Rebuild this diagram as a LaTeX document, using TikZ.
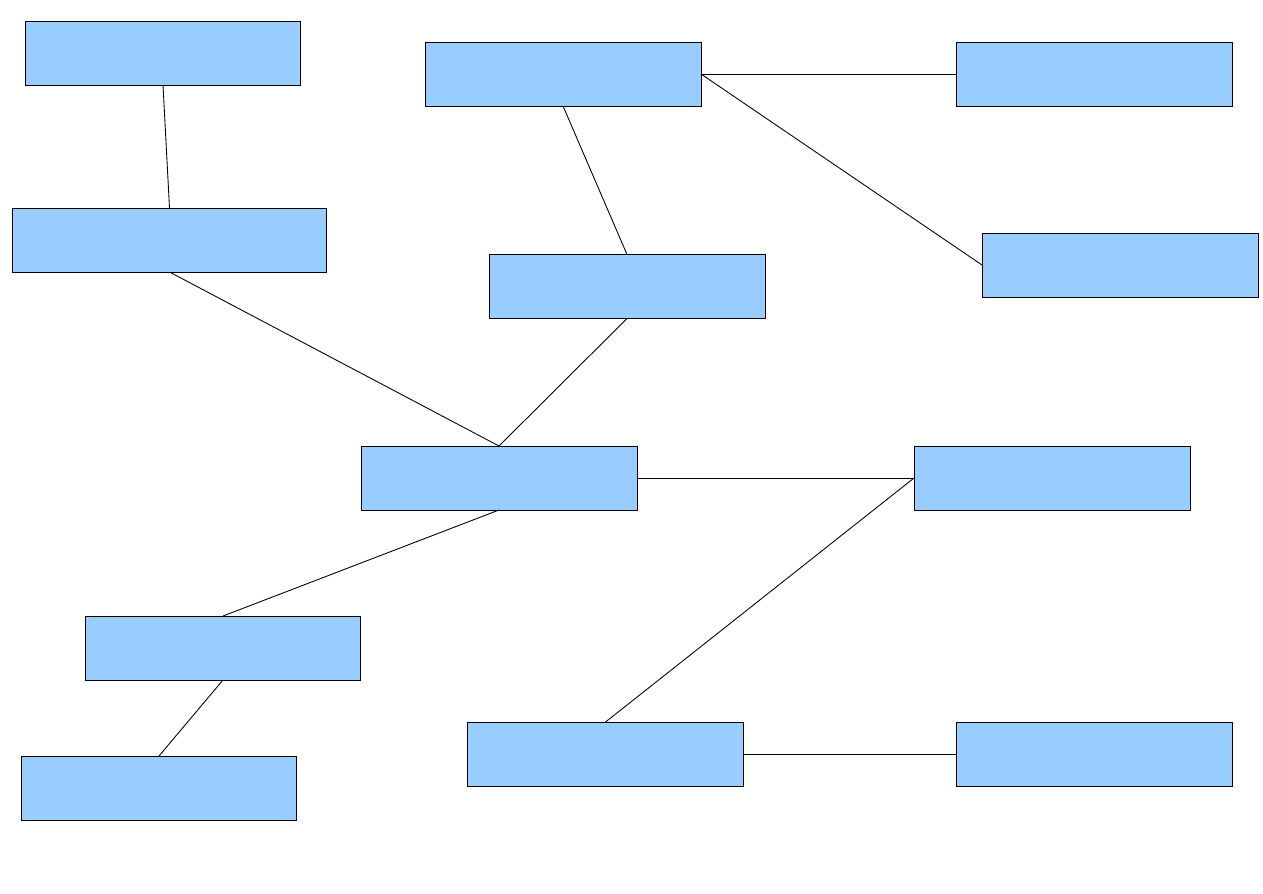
\documentclass[tikz,border=0pt]{standalone}
\definecolor{boxblue}{HTML}{99CCFF}
\begin{document}
\begin{tikzpicture}[x=0.02cm,y=-0.02cm,
  box/.style={draw=black,fill=boxblue,line width=0.55pt,inner sep=0pt,outer sep=0pt,minimum width=5.52cm,minimum height=1.28cm},
  wide/.style={minimum width=6.3cm},
  conn/.style={draw=black,line width=0.5pt}]
\useasboundingbox (0,0) rectangle (1263,893);
\node[box] (A) at (163,53) {};
\node[box] (B) at (563,74) {};
\node[box] (C) at (1094.5,74) {};
\node[box,wide] (D) at (169.5,240) {};
\node[box] (E) at (627,286.5) {};
\node[box] (F) at (1120,265) {};
\node[box] (G) at (499,478) {};
\node[box] (H) at (1052,478) {};
\node[box] (I) at (223,648) {};
\node[box] (J) at (605.5,754) {};
\node[box] (K) at (1094.5,754) {};
\node[box] (L) at (159,788) {};
\draw[conn] (A.south) -- (D.north);
\draw[conn] (B.east) -- (C.west);
\draw[conn] (B.south) -- (E.north);
\draw[conn] (B.east) -- (F.west);
\draw[conn] (D.south) -- (G.north);
\draw[conn] (E.south) -- (G.north);
\draw[conn] (G.east) -- (H.west);
\draw[conn] (G.south) -- (I.north);
\draw[conn] (I.south) -- (L.north);
\draw[conn] (H.west) -- (J.north);
\draw[conn] (J.east) -- (K.west);
\end{tikzpicture}
\end{document}
